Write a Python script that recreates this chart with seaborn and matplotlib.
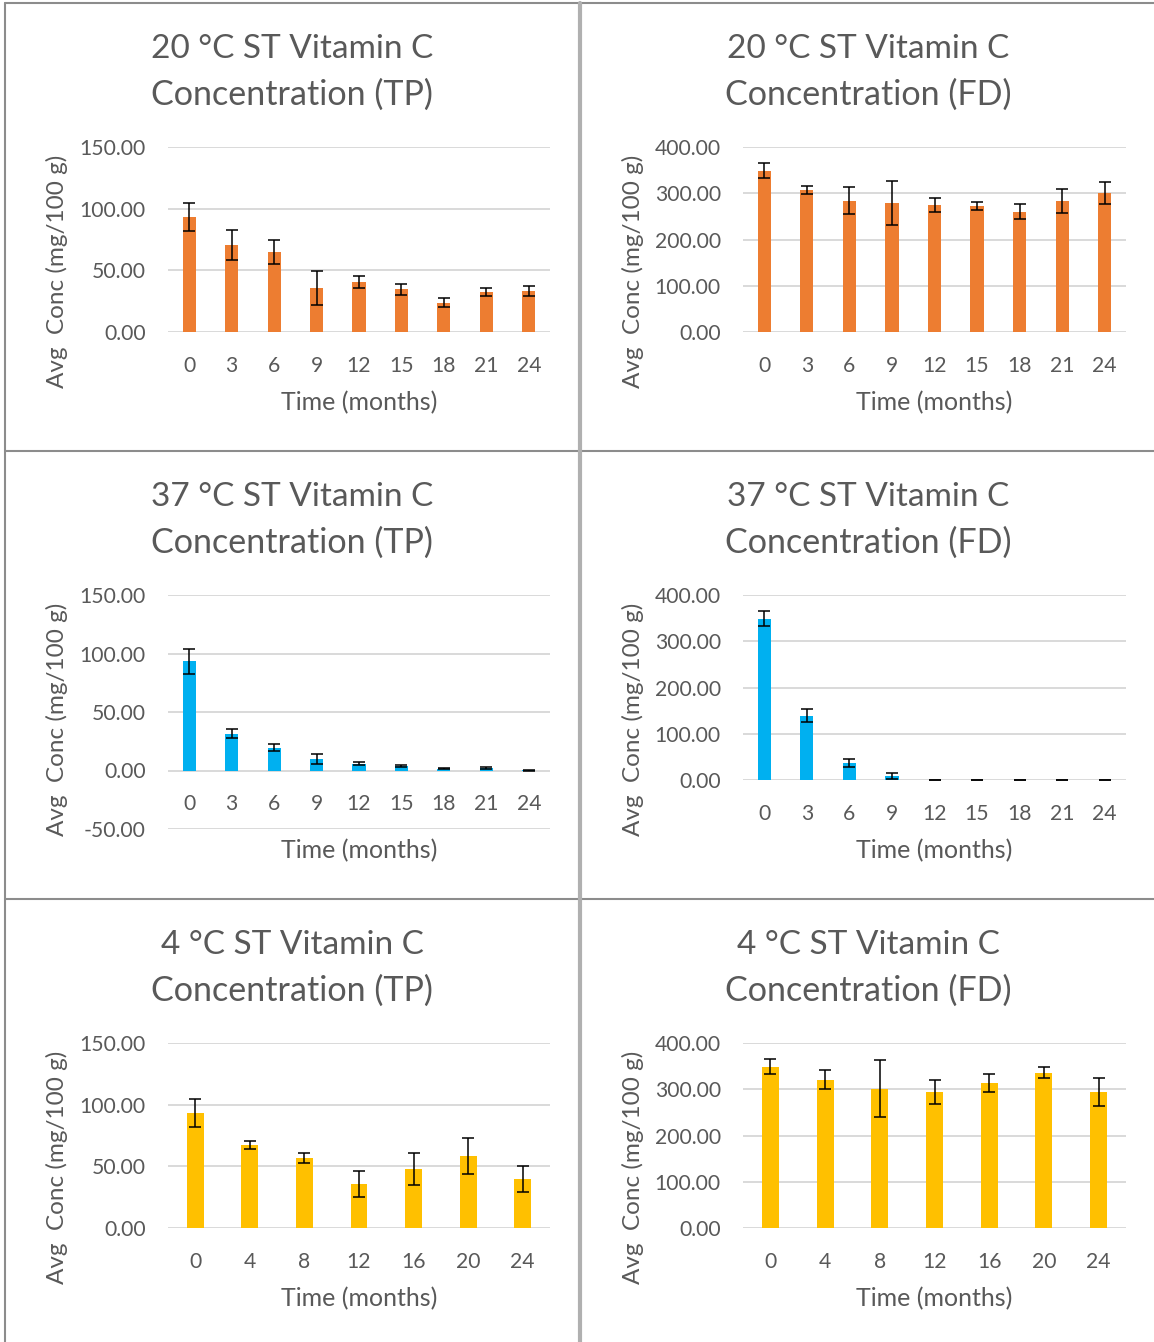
import matplotlib
matplotlib.use("Agg")
import matplotlib.pyplot as plt
from matplotlib.lines import Line2D
import seaborn as sns
import numpy as np

# --- data -------------------------------------------------------------
months_9 = ["0", "3", "6", "9", "12", "15", "18", "21", "24"]
months_7 = ["0", "4", "8", "12", "16", "20", "24"]

tp_20 = [93.2, 70.4, 64.9, 35.6, 40.5, 34.5, 23.9, 32.6, 33.2]
tp_20_err = [11.0, 12.0, 9.5, 14.0, 4.9, 4.6, 3.8, 3.3, 3.8]
fd_20 = [348.6, 307.4, 283.5, 279.2, 274.9, 272.7, 260.4, 283.5, 300.9]
fd_20_err = [16.0, 8.0, 29.0, 47.0, 15.0, 8.0, 17.0, 26.0, 24.0]

tp_37 = [93.2, 31.5, 19.5, 10.0, 5.7, 4.0, 1.4, 2.0, 0.2]
tp_37_err = [11.0, 4.0, 3.2, 4.3, 1.4, 0.9, 0.5, 0.6, 0.3]
fd_37 = [348.6, 138.9, 36.2, 8.7, 0.5, 0.5, 0.5, 0.5, 0.5]
fd_37_err = [16.0, 14.0, 9.0, 7.0, 0.4, 0.4, 0.4, 0.4, 0.4]

tp_4 = [93.2, 67.4, 57.1, 35.6, 47.8, 58.4, 39.7]
tp_4_err = [11.0, 3.5, 4.0, 10.3, 13.0, 14.7, 10.8]
fd_4 = [348.6, 321.0, 301.4, 294.9, 314.5, 336.2, 293.5]
fd_4_err = [16.0, 21.0, 61.0, 26.0, 19.5, 10.9, 30.0]

titles = [
    ("20 °C ST Vitamin C", "Concentration (TP)"),
    ("20 °C ST Vitamin C", "Concentration (FD)"),
    ("37 °C ST Vitamin C", "Concentration (TP)"),
    ("37 °C ST Vitamin C", "Concentration (FD)"),
    ("4 °C ST Vitamin C", "Concentration (TP)"),
    ("4 °C ST Vitamin C", "Concentration (FD)"),
]

ORANGE = "#ED7D31"
BLUE = "#00B0F0"
YELLOW = "#FFC000"
TEXT = "#595959"
GRID = "#D9D9D9"

W, H = 1154, 1342
sns.set_theme(style="white")
plt.rcParams["font.family"] = ["Lato", "DejaVu Sans"]

fig = plt.figure(figsize=(W / 100, H / 100), dpi=100)


def fx(px):
    return px / W


def fy(py):
    return 1 - py / H


panels = [
    # (categories, values, errors, colour, ylim, yticks, col, row, bottom px, top px)
    (months_9, tp_20, tp_20_err, ORANGE, (0, 150), [0, 50, 100, 150], 0, 0, 332, 147),
    (months_9, fd_20, fd_20_err, ORANGE, (0, 400), [0, 100, 200, 300, 400], 1, 0, 332, 147),
    (months_9, tp_37, tp_37_err, BLUE, (-50, 150), [-50, 0, 50, 100, 150], 0, 1, 829, 595),
    (months_9, fd_37, fd_37_err, BLUE, (0, 400), [0, 100, 200, 300, 400], 1, 1, 780, 595),
    (months_7, tp_4, tp_4_err, YELLOW, (0, 150), [0, 50, 100, 150], 0, 2, 1228, 1043),
    (months_7, fd_4, fd_4_err, YELLOW, (0, 400), [0, 100, 200, 300, 400], 1, 2, 1228, 1043),
]

for i, (cats, vals, errs, colour, ylim, yticks, col, row, bottom_px, top_px) in enumerate(panels):
    left_px = 168 if col == 0 else 743
    right_px = 550 if col == 0 else 1126
    ax = fig.add_axes([fx(left_px), fy(bottom_px),
                       (right_px - left_px) / W, (bottom_px - top_px) / H])

    sns.barplot(x=cats, y=vals, color=colour, width=0.31, ax=ax,
                saturation=1, errorbar=None, edgecolor="none")
    ax.errorbar(np.arange(len(cats)), vals, yerr=errs, fmt="none",
                ecolor="black", elinewidth=1.1, capsize=4.4, capthick=1.1,
                zorder=4)

    ax.set_ylim(*ylim)
    ax.set_xlim(-0.5, len(cats) - 0.5)
    ax.set_yticks(yticks)
    ax.set_yticklabels([f"{t:.2f}" for t in yticks])
    for t in yticks:
        ax.axhline(t, color=GRID, lw=1.4, zorder=0)

    for s in ax.spines.values():
        s.set_visible(False)
    ax.spines["bottom"].set_position(("data", 0))

    ax.tick_params(axis="both", length=0, labelsize=15.2, colors=TEXT)
    ax.tick_params(axis="y", pad=16)
    ax.tick_params(axis="x", pad=17)
    ax.set_xlabel("")
    ax.set_ylabel("")

    # chart titles and axis titles
    cx = 292 if col == 0 else 868
    oy = 448 * row
    fig.text(fx(cx), fy(49 + oy), titles[i][0], ha="center", va="center",
             fontsize=24, color=TEXT)
    fig.text(fx(cx), fy(95 + oy), titles[i][1], ha="center", va="center",
             fontsize=24.6, color=TEXT)

    fig.text(fx((left_px + right_px) / 2), fy(403 + oy), "Time (months)",
             ha="center", va="center", fontsize=18, color=TEXT)
    ylx = 57 if col == 0 else 633
    fig.text(fx(ylx), fy(271 + oy), "Avg  Conc (mg/100 g)", rotation=90,
             ha="center", va="center", fontsize=17.5, color=TEXT)

# chart frames
frame = "#8C8C8C"
fig.add_artist(Line2D([fx(5), fx(W)], [fy(3), fy(3)], color=frame, lw=1.5))
fig.add_artist(Line2D([fx(5), fx(5)], [fy(3), fy(H)], color=frame, lw=1.5))
for yy in (451, 899):
    fig.add_artist(Line2D([fx(5), fx(W)], [fy(yy), fy(yy)], color=frame, lw=1.5))
fig.add_artist(Line2D([fx(580), fx(580)], [fy(3), fy(H)], color="#B0B0B0", lw=3))

fig.savefig("out.png", dpi=100, facecolor="white")
